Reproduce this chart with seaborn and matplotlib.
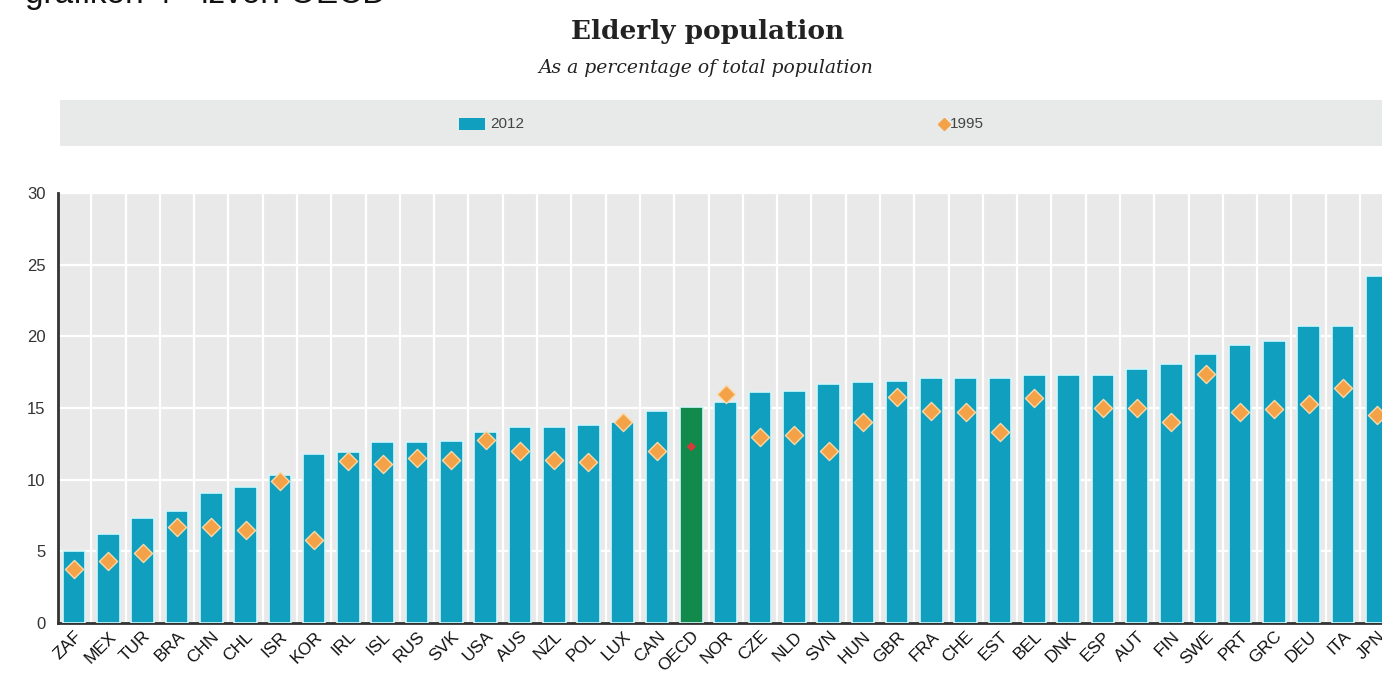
import matplotlib
matplotlib.use("Agg")
import matplotlib.pyplot as plt
import seaborn as sns
import numpy as np
import pandas as pd
from matplotlib.patches import Rectangle
from matplotlib.lines import Line2D

countries = ["ZAF", "MEX", "TUR", "BRA", "CHN", "CHL", "ISR", "KOR", "IRL", "ISL",
             "RUS", "SVK", "USA", "AUS", "NZL", "POL", "LUX", "CAN", "OECD", "NOR",
             "CZE", "NLD", "SVN", "HUN", "GBR", "FRA", "CHE", "EST", "BEL", "DNK",
             "ESP", "AUT", "FIN", "SWE", "PRT", "GRC", "DEU", "ITA", "JPN"]
values_2012 = [5.0, 6.2, 7.3, 7.8, 9.1, 9.5, 10.3, 11.8, 11.9, 12.6,
               12.6, 12.7, 13.3, 13.7, 13.7, 13.8, 14.0, 14.8, 15.1, 15.4,
               16.1, 16.2, 16.7, 16.8, 16.9, 17.1, 17.1, 17.1, 17.3, 17.3,
               17.3, 17.7, 18.1, 18.8, 19.4, 19.7, 20.7, 20.7, 24.2]
values_1995 = [3.8, 4.3, 4.9, 6.7, 6.7, 6.5, 9.9, 5.8, 11.3, 11.1,
               11.5, 11.4, 12.8, 12.0, 11.4, 11.2, 14.0, 12.0, 12.3, 16.0,
               13.0, 13.1, 12.0, 14.0, 15.8, 14.8, 14.7, 13.3, 15.7, np.nan,
               15.0, 15.0, 14.0, 17.4, 14.7, 14.9, 15.3, 16.4, 14.5]

TEAL = "#119fc0"
GREEN = "#118a4c"
ORANGE = "#f4a247"

df = pd.DataFrame({"country": countries, "v2012": values_2012, "v1995": values_1995})
df["pos"] = np.arange(len(df))
bar_colors = {c: (GREEN if c == "OECD" else TEAL) for c in countries}

sns.set_style("white")
plt.rcParams["font.family"] = ["Liberation Sans", "DejaVu Sans"]

fig = plt.figure(figsize=(13.82, 6.75), dpi=100)
ax = fig.add_axes([58 / 1382, 52 / 675, 1 - 58 / 1382, (623 - 193) / 675])
ax.set_facecolor("#e9e9e9")

sns.barplot(data=df, x="country", y="v2012", hue="country", palette=bar_colors,
            legend=False, width=0.66, ax=ax, edgecolor="#d4f6fa", linewidth=1.2,
            saturation=1, zorder=3)

oth = df[df["country"] != "OECD"]
sns.scatterplot(x=oth["pos"], y=oth["v1995"], marker="D", s=85, color=ORANGE,
                edgecolor="#fbd9a6", linewidth=1.0, ax=ax, zorder=4)
oecd = df[df["country"] == "OECD"]
sns.scatterplot(x=oecd["pos"], y=oecd["v1995"], marker="D", s=22, color="#d8393a",
                edgecolor="none", ax=ax, zorder=4)

ax.set_xlim(-0.47, 38.14)
ax.set_ylim(0, 30)
ax.set_yticks([0, 5, 10, 15, 20, 25, 30])
ax.set_xlabel("")
ax.set_ylabel("")

ax.set_xticks(df["pos"])
ax.set_xticklabels(countries, rotation=45, ha="right", rotation_mode="anchor",
                   fontsize=12.5, color="#111111")
ax.tick_params(axis="x", which="major", length=0, pad=4)
ax.set_xticks(np.arange(0.5, len(countries) - 0.5, 1.0), minor=True)
ax.tick_params(axis="x", which="minor", length=4, width=1.5, color="#333333", direction="in")
ax.tick_params(axis="y", length=5, width=1.5, color="#333333", direction="in",
               labelsize=12, labelcolor="#333333", pad=9)

ax.grid(axis="y", color="white", linewidth=1.6, zorder=0)
ax.grid(axis="x", which="minor", color="white", linewidth=1.6, zorder=0)
ax.set_axisbelow(True)

for s in ["top", "right"]:
    ax.spines[s].set_visible(False)
for s in ["left", "bottom"]:
    ax.spines[s].set_color("#333333")
    ax.spines[s].set_linewidth(2)

# titles
fig.text(708 / 1382, 1 - 31 / 675, "Elderly population", ha="center", va="center",
         fontsize=19, fontweight="bold", family=["DejaVu Serif"], color="#222222")
fig.text(706 / 1382, 1 - 68 / 675, "As a percentage of total population", ha="center",
         va="center", fontsize=13.5, style="italic", family=["DejaVu Serif"],
         color="#222222")
fig.text(25 / 1382, 1 - 3 / 675, "grafikon 4 - izvor: OECD", ha="left", va="baseline",
         fontsize=24, color="#111111")

# legend band
fig.patches.append(Rectangle((60 / 1382, 1 - 146 / 675), 1 - 60 / 1382, 46 / 675,
                             transform=fig.transFigure, facecolor="#e8e9e9",
                             edgecolor="none", zorder=0))
fig.patches.append(Rectangle((459 / 1382, 1 - 130 / 675), 26 / 1382, 12 / 675,
                             transform=fig.transFigure, facecolor=TEAL,
                             edgecolor="none", zorder=1))
fig.text(490 / 1382, 1 - 124 / 675, "2012", ha="left", va="center", fontsize=11,
         color="#444444")
fig.lines.append(Line2D([944 / 1382], [1 - 124 / 675], transform=fig.transFigure,
                        marker="D", markersize=6, color=ORANGE, linestyle="none"))
fig.text(950 / 1382, 1 - 124 / 675, "1995", ha="left", va="center", fontsize=11,
         color="#444444")

fig.savefig("out.png", dpi=100)
